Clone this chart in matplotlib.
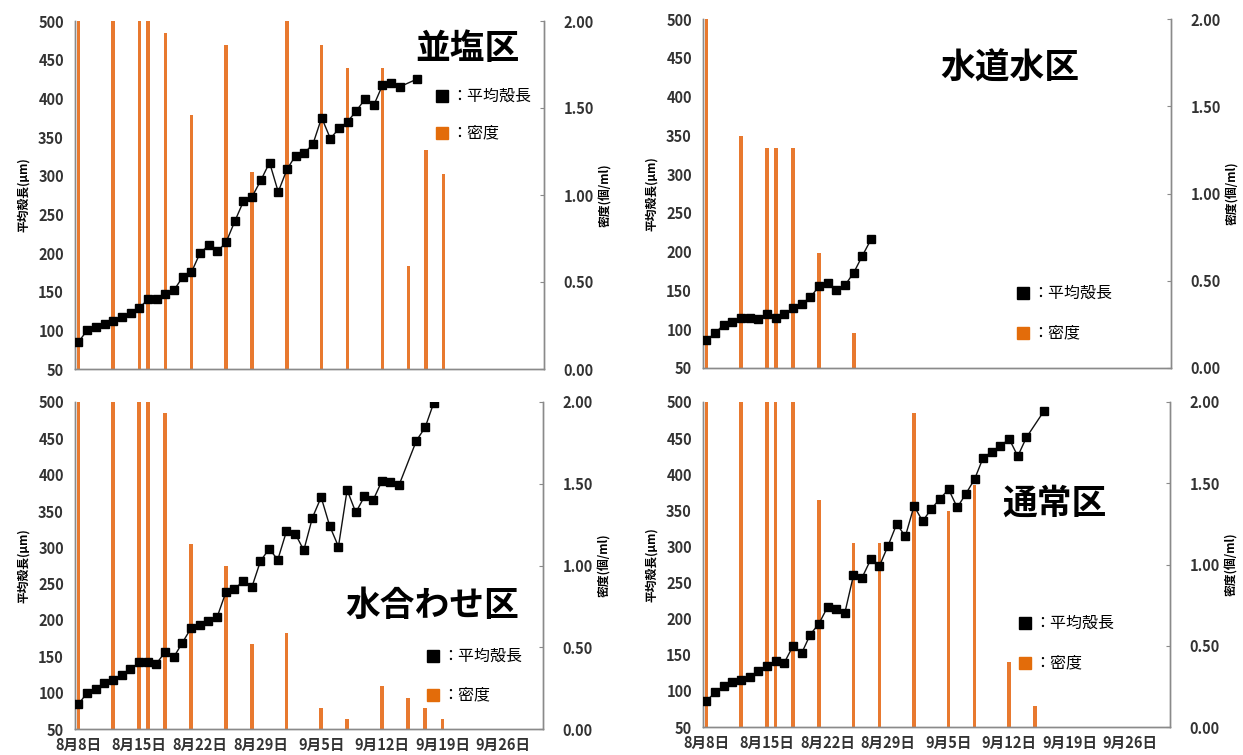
import matplotlib
matplotlib.use('Agg')
import matplotlib.pyplot as plt
import numpy as np
import pandas as pd

plt.rcParams['font.family'] = ['Noto Sans CJK JP', 'DejaVu Sans']

# 日付 (8月8日からの経過日数に変換して使う)
salt_len_dates = ['08-08', '08-09', '08-10', '08-11', '08-12', '08-13', '08-14', '08-15', '08-16', '08-17',
                  '08-18', '08-19', '08-20', '08-21', '08-22', '08-23', '08-24', '08-25', '08-26', '08-27',
                  '08-28', '08-29', '08-30', '08-31', '09-01', '09-02', '09-03', '09-04', '09-05', '09-06',
                  '09-07', '09-08', '09-09', '09-10', '09-11', '09-12', '09-13', '09-14', '09-16']
salt_len = [85, 100, 104, 108, 112, 117, 122, 129, 140, 140,
            147, 152, 169, 175, 200, 210, 202, 214, 241, 267,
            273, 294, 317, 279, 308, 326, 329, 341, 375, 348,
            361, 370, 384, 399, 391, 417, 420, 415, 425]
salt_den_dates = ['08-08', '08-12', '08-15', '08-16', '08-18', '08-21', '08-25', '08-28',
                  '09-01', '09-05', '09-08', '09-12', '09-15', '09-17', '09-19']
salt_den = [2.00, 2.00, 2.00, 2.00, 1.93, 1.46, 1.86, 1.13,
            2.00, 1.86, 1.73, 1.73, 0.59, 1.26, 1.12]

tap_len_dates = ['08-08', '08-09', '08-10', '08-11', '08-12', '08-13', '08-14', '08-15', '08-16', '08-17',
                 '08-18', '08-19', '08-20', '08-21', '08-22', '08-23', '08-24', '08-25', '08-26', '08-27']
tap_len = [86, 95, 106, 109, 115, 114, 113, 120, 115, 119,
           127, 133, 141, 156, 160, 150, 157, 173, 195, 216]
tap_den_dates = ['08-08', '08-12', '08-15', '08-16', '08-18', '08-21', '08-25']
tap_den = [2.00, 1.33, 1.26, 1.26, 1.26, 0.66, 0.20]

mix_len_dates = ['08-08', '08-09', '08-10', '08-11', '08-12', '08-13', '08-14', '08-15', '08-16', '08-17',
                 '08-18', '08-19', '08-20', '08-21', '08-22', '08-23', '08-24', '08-25', '08-26', '08-27',
                 '08-28', '08-29', '08-30', '08-31', '09-01', '09-02', '09-03', '09-04', '09-05', '09-06',
                 '09-07', '09-08', '09-09', '09-10', '09-11', '09-12', '09-13', '09-14', '09-16', '09-17',
                 '09-18']
mix_len = [84, 100, 105, 113, 117, 124, 132, 142, 142, 140,
           156, 149, 169, 189, 193, 199, 204, 238, 242, 254,
           245, 281, 298, 283, 322, 319, 296, 341, 369, 329,
           301, 379, 348, 370, 365, 391, 390, 386, 447, 465,
           499]
mix_den_dates = ['08-08', '08-12', '08-15', '08-16', '08-18', '08-21', '08-25', '08-28',
                 '09-01', '09-05', '09-08', '09-12', '09-15', '09-17', '09-19']
mix_den = [2.00, 2.00, 2.00, 2.00, 1.93, 1.13, 1.00, 0.52,
           0.59, 0.13, 0.06, 0.26, 0.19, 0.13, 0.06]

norm_len_dates = ['08-08', '08-09', '08-10', '08-11', '08-12', '08-13', '08-14', '08-15', '08-16', '08-17',
                  '08-18', '08-19', '08-20', '08-21', '08-22', '08-23', '08-24', '08-25', '08-26', '08-27',
                  '08-28', '08-29', '08-30', '08-31', '09-01', '09-02', '09-03', '09-04', '09-05', '09-06',
                  '09-07', '09-08', '09-09', '09-10', '09-11', '09-12', '09-13', '09-14', '09-16']
norm_len = [86, 98, 107, 113, 115, 119, 128, 135, 142, 139,
            162, 152, 178, 193, 216, 214, 208, 260, 257, 282,
            273, 301, 331, 314, 356, 335, 352, 366, 379, 354,
            373, 393, 423, 431, 439, 449, 425, 451, 487]
norm_den_dates = ['08-08', '08-12', '08-15', '08-16', '08-18', '08-21', '08-25', '08-28',
                  '09-01', '09-05', '09-08', '09-12', '09-15']
norm_den = [2.00, 2.00, 2.00, 2.00, 2.00, 1.40, 1.13, 1.13,
            1.93, 1.33, 1.49, 0.40, 0.13]

tick_labels = ['8月8日', '8月15日', '8月22日', '8月29日', '9月5日', '9月12日', '9月19日', '9月26日']
len_ticks = [500, 450, 400, 350, 300, 250, 200, 150, 100, 50]
den_ticks = [2.0, 1.5, 1.0, 0.5, 0.0]

START = pd.Timestamp('2000-08-08')


def to_days(dates):
    return [(pd.Timestamp('2000-' + d) - START).days for d in dates]


ORANGE = '#E8792F'
GRAY = '#8a8a8a'
W, H = 1243, 755
fig = plt.figure(figsize=(W / 100, H / 100), dpi=100)


def panel(px, title, tpos, lpos, len_dates, lens, den_dates, dens, show_x):
    x0, y0, x1, y1 = px
    ax = fig.add_axes([x0 / W, 1 - y1 / H, (x1 - x0) / W, (y1 - y0) / H])
    ax2 = ax.twinx()
    ax.set_zorder(ax2.get_zorder() + 1)
    ax.patch.set_visible(False)

    ax2.bar(to_days(den_dates), dens, width=0.4, color=ORANGE, zorder=1)
    ax.plot(to_days(len_dates), lens, color='#111111', lw=1.0, marker='s', ms=6,
            markerfacecolor='black', markeredgecolor='black', zorder=3)

    ax.set_xlim(-0.4, 53.6)
    ax.set_ylim(50, 500)
    ax2.set_ylim(0, 2.0)
    ax.set_yticks(len_ticks)
    ax2.set_yticks(den_ticks)
    ax2.set_yticklabels(['%.2f' % v for v in den_ticks])
    ax.set_xticks(range(0, 50, 7))
    if show_x:
        ax.set_xticklabels(tick_labels, fontsize=10.5, fontweight='bold', color='#333333')
    else:
        ax.set_xticklabels([])

    for a in (ax, ax2):
        a.spines['top'].set_visible(False)
        for s in ('left', 'right', 'bottom'):
            a.spines[s].set_color(GRAY)
            a.spines[s].set_linewidth(1.0)
    ax.tick_params(axis='y', length=0, pad=8, labelsize=10.5, labelcolor='#333333')
    ax.tick_params(axis='x', length=0, pad=6)
    ax2.tick_params(axis='y', length=3, direction='in', color=GRAY, pad=14,
                    labelsize=10.5, labelcolor='#333333')
    for lab in ax.get_yticklabels() + ax2.get_yticklabels():
        lab.set_fontweight('bold')

    ax.set_ylabel('平均殻長(μm)', fontsize=8.5, fontweight='bold', labelpad=6)
    ax2.set_ylabel('密度(個/ml)', fontsize=8.5, fontweight='bold', labelpad=4)

    ax.text(tpos[0], tpos[1], title, transform=ax.transAxes, fontsize=25,
            fontweight='bold', ha='center', va='center', zorder=5)
    lx, ly1, ly2 = lpos
    for yy, col, txt in ((ly1, 'black', '：平均殻長'), (ly2, '#E36C0A', '：密度')):
        ax.plot([lx], [yy], marker='s', ms=8, color=col, transform=ax.transAxes,
                clip_on=False, zorder=5)
        ax.text(lx + 0.02, yy, txt, transform=ax.transAxes, fontsize=11.5,
                ha='left', va='center', zorder=5)


panel((75, 21, 544, 369), '並塩区', (0.836, 0.922), (0.783, 0.784, 0.678),
      salt_len_dates, salt_len, salt_den_dates, salt_den, False)
panel((703, 19, 1171, 368), '水道水区', (0.656, 0.86), (0.684, 0.215, 0.100),
      tap_len_dates, tap_len, tap_den_dates, tap_den, False)
panel((75, 402, 543, 729), '水合わせ区', (0.763, 0.379), (0.765, 0.223, 0.104),
      mix_len_dates, mix_len, mix_den_dates, mix_den, True)
panel((703, 402, 1170, 727), '通常区', (0.752, 0.689), (0.69, 0.32, 0.197),
      norm_len_dates, norm_len, norm_den_dates, norm_den, True)

fig.savefig('out.png', dpi=100)
